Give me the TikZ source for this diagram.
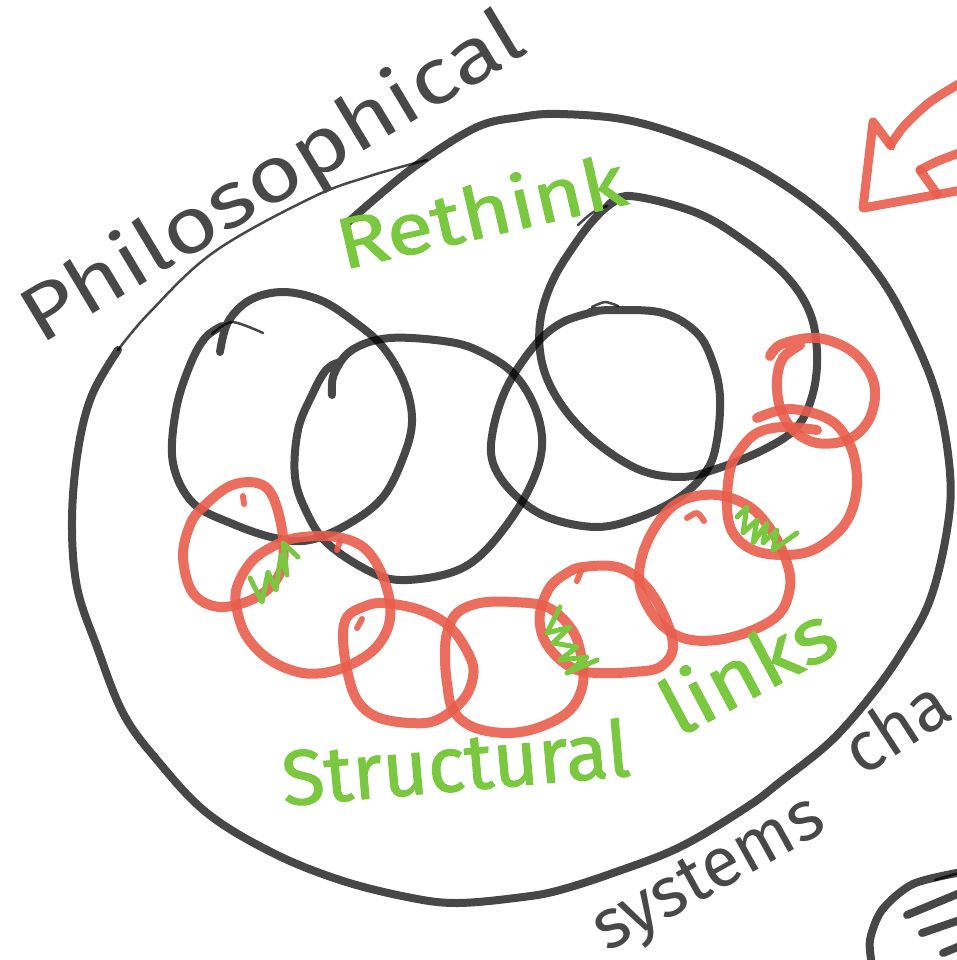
\documentclass[tikz,border=0pt]{standalone}
\usepackage{fontspec}
\setmainfont{Fira Sans}
\newfontfamily\handfont{Fira Sans}
\newfontfamily\markfont[FakeBold=1.4]{Fira Sans}
\definecolor{ink}{RGB}{72,72,72}
\definecolor{marker}{RGB}{233,94,76}
\definecolor{leaf}{RGB}{122,200,64}
\begin{document}
\begin{tikzpicture}[x=1pt,y=-1pt,line cap=round,line join=round,
  inkline/.style={draw=black,draw opacity=0.72,line width=8pt},
  thinink/.style={draw=black,draw opacity=0.72,line width=2.5pt},
  redring/.style={draw=marker,draw opacity=0.9,line width=10pt},
  redtick/.style={draw=marker,draw opacity=0.9,line width=6pt},
  zig/.style={draw=leaf,line width=5pt},
  graytext/.style={text=ink,inner sep=0pt,anchor=base west},
  greentext/.style={text=leaf,inner sep=0pt,anchor=base west}]
\useasboundingbox (0,0) rectangle (956,960);
\fill[white] (0,0) rectangle (956,960);

% outer boundary
\draw[inkline] plot[smooth,tension=0.6] coordinates {(345,225) (410,170) (475,128) (521,117) (560,114) (627,120) (693,140) (760,170) (827,217) (877,273) (910,330) (937,397) (950,473) (947,530) (930,600) (902,652) (870,697) (830,742) (780,782) (747,807) (680,847) (613,873) (560,890) (523,897) (457,903) (407,897) (340,880) (273,853) (207,813) (157,760) (123,713) (97,647) (77,587) (72,520) (78,450) (92,395) (118,350)};
\draw[thinink] plot[smooth,tension=0.6] coordinates {(118,350) (150,312) (214,252) (311,198) (370,176) (427,160)};

% black circles
\draw[inkline] plot[smooth,tension=0.6] coordinates {(220,352) (228,322) (250,300) (283,292) (320,300) (352,320) (383,347) (405,385) (412,422) (403,458) (383,497) (350,523) (310,540) (275,538) (233,524) (193,503) (173,463) (176,410) (190,365) (205,338) (222,326)};
\draw[thinink] plot[smooth] coordinates {(212,334) (232,322) (263,333)};
\draw[inkline] plot[smooth,tension=0.6] coordinates {(332,395) (334,374) (352,350) (390,338) (450,342) (483,353) (513,373) (533,403) (542,437) (537,470) (517,510) (483,553) (450,573) (400,580) (367,570) (327,543) (307,513) (295,477) (298,430) (312,395) (326,370) (340,362)};
\draw[thinink] plot[smooth] coordinates {(592,307) (605,302) (618,306)};
\draw[inkline] plot[smooth,tension=0.6] coordinates {(590,312) (613,310) (663,313) (697,333) (713,363) (720,397) (717,440) (707,470) (680,497) (640,517) (597,527) (547,517) (513,493) (493,463) (493,430) (507,387) (535,345) (563,322) (598,311)};
\draw[thinink] plot[smooth] coordinates {(578,225) (592,213) (607,206)};
\draw[inkline] plot[smooth,tension=0.6] coordinates {(607,207) (630,196) (697,213) (747,243) (787,277) (810,313) (817,353) (813,393) (797,427) (763,450) (713,470) (680,477) (640,470) (597,443) (563,407) (543,367) (540,323) (553,280) (580,237) (600,213) (615,201)};

% red rings
\draw[redring] plot[smooth cycle,tension=0.6] coordinates {(203,507) (230,486) (257,483) (273,497) (283,537) (280,573) (257,597) (220,607) (193,593) (183,557) (190,525)};
\draw[redring] plot[smooth cycle,tension=0.6] coordinates {(237,587) (253,560) (280,543) (303,537) (337,537) (363,547) (380,570) (390,603) (387,630) (370,653) (337,670) (303,673) (270,660) (247,637) (237,610)};
\draw[redring] plot[smooth cycle,tension=0.6] coordinates {(343,637) (347,617) (363,607) (383,603) (420,610) (450,627) (470,657) (473,677) (463,700) (437,720) (410,723) (377,717) (357,700) (347,670)};
\draw[redring] plot[smooth cycle,tension=0.6] coordinates {(447,633) (457,613) (480,603) (513,602) (547,607) (570,627) (580,650) (583,683) (570,710) (540,727) (507,733) (473,727) (453,710) (447,683) (445,657)};
\draw[redring] plot[smooth cycle,tension=0.6] coordinates {(540,613) (550,587) (567,573) (583,567) (617,567) (643,583) (663,613) (673,647) (660,667) (633,672) (600,673) (577,670) (557,657) (543,637)};
\draw[redring] plot[smooth cycle,tension=0.6] coordinates {(640,587) (643,553) (660,520) (683,500) (717,495) (750,507) (773,533) (787,563) (790,587) (780,613) (753,630) (717,640) (683,638) (657,620)};
\draw[redring] plot[smooth,tension=0.6] coordinates {(757,418) (790,409) (830,420) (850,445) (857,477) (853,507) (840,530) (813,550) (783,555) (753,550) (733,533) (727,507) (730,470) (740,450) (757,433) (783,427) (817,430)};
\draw[redring] plot[smooth,tension=0.6] coordinates {(770,356) (782,344) (817,338) (850,350) (870,373) (875,397) (867,423) (847,440) (817,443) (793,430) (780,407) (777,380) (783,358) (800,345)};
\draw[redtick] (243,496) -- (244,504);
\draw[redtick] (337,550) -- (340,541);
\draw[redtick] (357,628) -- (362,619);
\draw[redtick] (577,581) -- (581,571);
\draw[redtick] plot[smooth] coordinates {(687,518) (697,513) (704,521)};

% green zigzags
\draw[zig] (250,578) -- (262,602) -- (268,572) -- (276,590) -- (281,555) -- (287,575) -- (283,543) -- (298,557);
\draw[zig] (560,607) -- (547,633) -- (570,627) -- (553,643) -- (577,647) -- (560,660) -- (587,657) -- (567,673) -- (597,660);
\draw[zig] (737,517) -- (747,507) -- (743,533) -- (757,520) -- (753,543) -- (767,523) -- (763,543) -- (777,530) -- (773,550) -- (797,533);

% red arrow
\draw[redring,line width=9pt] plot[smooth] coordinates {(962,82) (930,102) (905,125) (891,144)};
\draw[redring,line width=9pt] (891,146) -- (873,122) -- (863,208) -- (962,190);
\draw[redring,line width=9pt] plot[smooth] coordinates {(962,152) (938,161) (920,170)};
\draw[redring,line width=9pt] (920,170) -- (937,194);

% bottom right partial shape
\draw[inkline] plot[smooth] coordinates {(962,872) (913,884) (882,910) (870,940) (872,965)};
\draw[inkline] (907,915) -- (960,893);
\draw[inkline] (922,933) -- (960,920);
\draw[inkline] (943,953) -- (960,946);
\draw[thinink] (935,880) -- (962,872);

% texts
\node[graytext,rotate=31,xscale=1.2,font=\handfont\fontsize{78}{78}\selectfont] (philo) at (40,346) {Philosophical};
\node[greentext,rotate=13,xscale=1.18,font=\markfont\fontsize{72}{72}\selectfont] (rethink) at (343,270) {Rethink};
\node[greentext,rotate=5,font=\markfont\fontsize{78}{78}\selectfont] (struct) at (284,806) {Structural};
\node[greentext,rotate=28,xscale=1.12,font=\markfont\fontsize{78}{78}\selectfont] (links) at (678,738) {links};
\node[graytext,rotate=29,font=\handfont\fontsize{70}{70}\selectfont] (systems) at (607,953) {systems};
\node[graytext,rotate=33,font=\handfont\fontsize{70}{70}\selectfont] (cha) at (862,778) {cha};
\end{tikzpicture}
\end{document}
